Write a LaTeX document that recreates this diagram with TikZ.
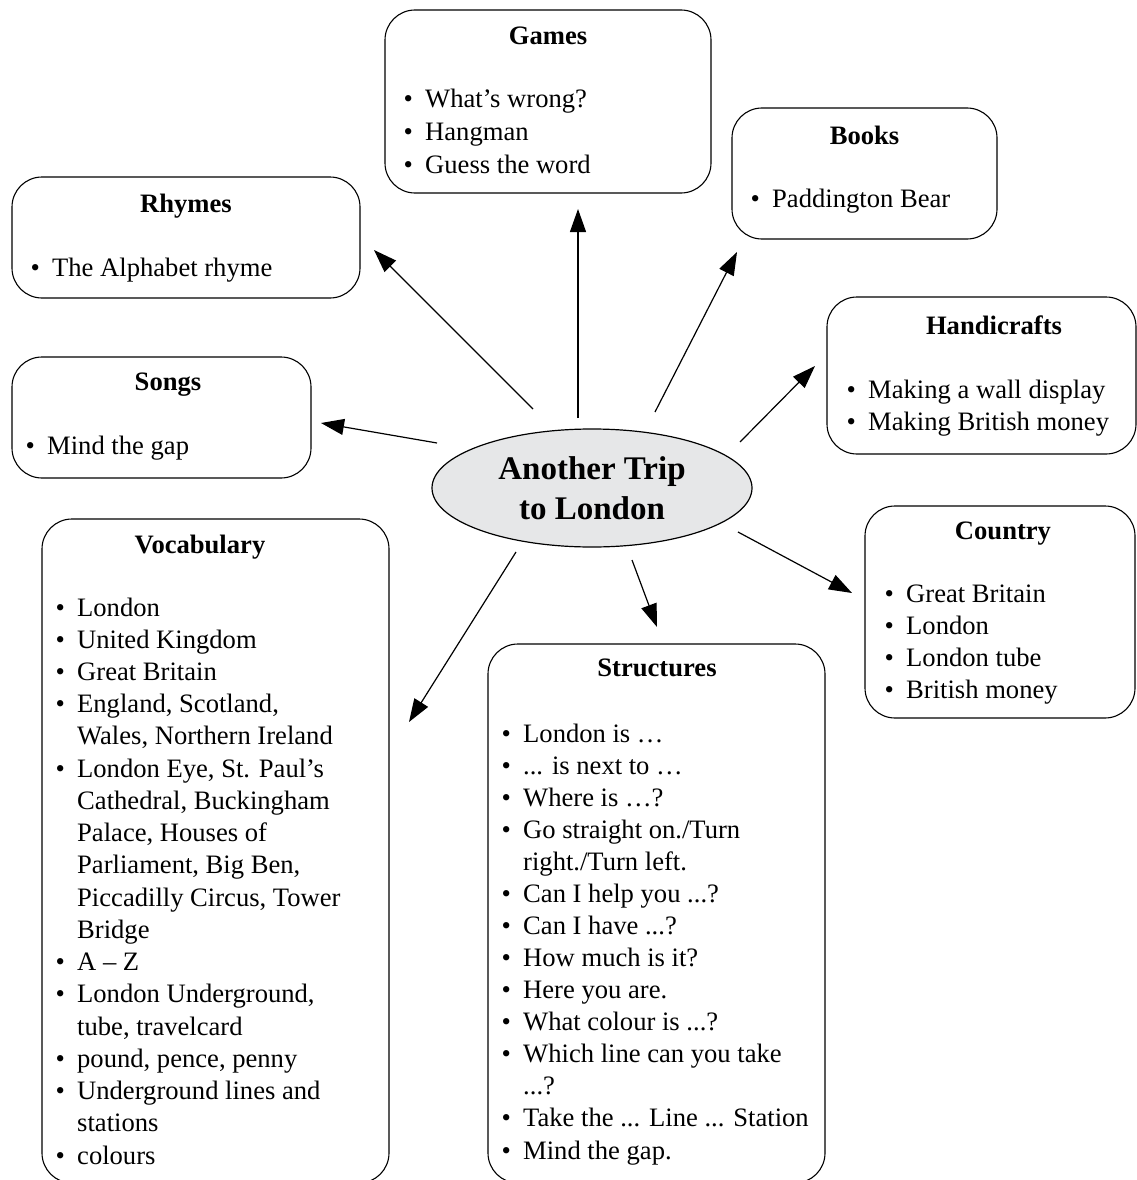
\documentclass[tikz,border=0pt]{standalone}
\usepackage{fontspec}
\setmainfont{Liberation Serif}
\usetikzlibrary{arrows.meta,shapes.geometric}
\definecolor{ellfill}{HTML}{E6E7E8}
\newcommand{\bul}{\makebox[21.5pt][l]{\textbullet}}
\newcommand{\nob}{\makebox[21.5pt][l]{}}
\newcommand{\tdots}{.{}.{}.}
\begin{document}
\begin{tikzpicture}[x=1pt,y=-1pt,
  box/.style={draw, line width=1.1pt, rounded corners=30pt, inner sep=0pt},
  ttl/.style={font=\fontsize{26.6}{32}\selectfont\bfseries, anchor=base, inner sep=0pt},
  itm/.style={font=\fontsize{26.6}{32}\selectfont, anchor=base west, inner sep=0pt},
  arr/.style={line width=1.2pt, -{Triangle[length=23pt,width=16pt]}}]
\useasboundingbox (0,0) rectangle (1136,1180);

% central ellipse
\node[ellipse, draw, line width=1.2pt, fill=ellfill, minimum width=320pt, minimum height=118pt, inner sep=0pt,
  align=center, font=\fontsize{33}{40}\selectfont\bfseries] (center) at (592,488) {Another Trip\\to London};

% Games
\node[box, minimum width=326pt, minimum height=183pt] (games) at (548,101.5) {};
\node[ttl] (games-t) at (548,45) {Games};
\foreach \t [count=\i] in {{\bul What’s wrong?},{\bul Hangman},{\bul Guess the word}}
  \node[itm] (games-\i) at (403.5,{108+32.5*(\i-1)}) {\t};

% Books
\node[box, minimum width=265pt, minimum height=131pt] (books) at (864.5,173.5) {};
\node[ttl] (books-t) at (864.5,145) {Books};
\node[itm] (books-1) at (750.5,207) {\bul Paddington Bear};

% Rhymes
\node[box, minimum width=348pt, minimum height=121pt] (rhymes) at (186,237.5) {};
\node[ttl] (rhymes-t) at (186,212) {Rhymes};
\node[itm] (rhymes-1) at (30.5,276) {\bul The Alphabet rhyme};

% Handicrafts
\node[box, minimum width=309pt, minimum height=157pt] (handi) at (981.5,375.5) {};
\node[ttl] (handi-t) at (994,334) {Handicrafts};
\foreach \t [count=\i] in {{\bul Making a wall display},{\bul Making British money}}
  \node[itm] (handi-\i) at (846.5,{398+32*(\i-1)}) {\t};

% Songs
\node[box, minimum width=299pt, minimum height=121pt] (songs) at (161.5,417.5) {};
\node[ttl] (songs-t) at (168,390) {Songs};
\node[itm] (songs-1) at (25.5,454) {\bul Mind the gap};

% Country
\node[box, minimum width=270pt, minimum height=212pt] (country) at (1000,612) {};
\node[ttl] (country-t) at (1003,539) {Country};
\foreach \t [count=\i] in {{\bul Great Britain},{\bul London},{\bul London tube},{\bul British money}}
  \node[itm] (country-\i) at (884.5,{602+32*(\i-1)}) {\t};

% Vocabulary
\node[box, minimum width=347pt, minimum height=664pt] (vocab) at (215.5,851) {};
\node[ttl] (vocab-t) at (200,553) {Vocabulary};
\foreach \t [count=\i] in {{\bul London},{\bul United Kingdom},{\bul Great Britain},
  {\bul England, Scotland,},{\nob Wales, Northern Ireland},
  {\bul London Eye, St. Paul’s},{\nob Cathedral, Buckingham},{\nob Palace, Houses of},
  {\nob Parliament, Big Ben,},{\nob Piccadilly Circus, Tower},{\nob Bridge},
  {\bul A – Z},{\bul London Underground,},{\nob tube, travelcard},
  {\bul pound, pence, penny},{\bul Underground lines and},{\nob stations},{\bul colours}}
  \node[itm] (vocab-\i) at (55.5,{616+32.24*(\i-1)}) {\t};

% Structures
\node[box, minimum width=337pt, minimum height=539pt] (struct) at (656.5,913.5) {};
\node[ttl] (struct-t) at (657,676) {Structures};
\foreach \t [count=\i] in {{\bul London is …},{\bul \tdots{} is next to …},{\bul Where is …?},
  {\bul Go straight on./Turn},{\nob right./Turn left.},{\bul Can I help you \tdots?},
  {\bul Can I have \tdots?},{\bul How much is it?},{\bul Here you are.},
  {\bul What colour is \tdots?},{\bul Which line can you take},{\nob \tdots?},
  {\bul Take the \tdots{} Line \tdots{} Station},{\bul Mind the gap.}}
  \node[itm] (struct-\i) at (501.5,{742+32.08*(\i-1)}) {\t};

% connector end points
\coordinate (s-rhymes) at (533,409);  \coordinate (e-rhymes) at (374,250);
\coordinate (s-games)  at (578,418);  \coordinate (e-games)  at (578,209);
\coordinate (s-books)  at (655,412);  \coordinate (e-books)  at (737,252);
\coordinate (s-handi)  at (740,442);  \coordinate (e-handi)  at (815,366);
\coordinate (s-songs)  at (437,443);  \coordinate (e-songs)  at (321,423);
\coordinate (s-country) at (738,532); \coordinate (e-country) at (852,593);
\coordinate (s-struct) at (632,560);  \coordinate (e-struct) at (657,627);
\coordinate (s-vocab)  at (516,552);  \coordinate (e-vocab)  at (409,722);

\foreach \n in {rhymes,games,books,handi,songs,country,struct,vocab}
  \draw[arr] (s-\n) -- (e-\n);
\end{tikzpicture}
\end{document}
